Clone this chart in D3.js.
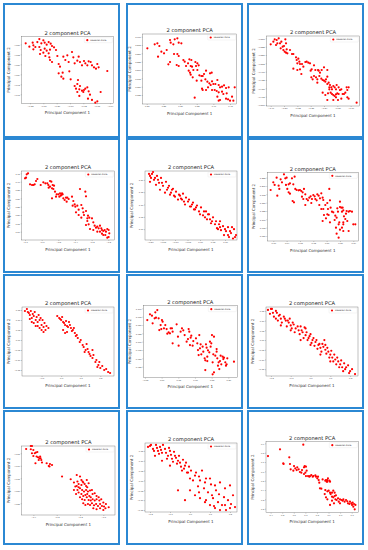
<!DOCTYPE html>
<html>
<head>
<meta charset="utf-8">
<script src="https://cdn.jsdelivr.net/npm/d3@7"></script>
<style>
  body { margin: 0; background: #fff; }
  svg { display: block; }
</style>
</head>
<body>
<div id="chart"></div>
<script>
// ---- data: one array of [PC1, PC2] per panel, plus its ticks ----
const pts1 = [[-0.293,-0.797],[-0.272,-0.795],[-0.270,-0.803],[-0.258,-0.793],[-0.252,-0.784],[-0.246,-0.797],[-0.240,-0.788],[-0.236,-0.795],[-0.230,-0.801],[-0.224,-0.793],[-0.218,-0.798],[-0.214,-0.805],[-0.264,-0.808],[-0.282,-0.807],[-0.270,-0.815],[-0.252,-0.808],[-0.248,-0.817],[-0.236,-0.813],[-0.230,-0.819],[-0.220,-0.816],[-0.224,-0.827],[-0.240,-0.825],[-0.250,-0.829],[-0.234,-0.835],[-0.222,-0.839],[-0.220,-0.847],[-0.214,-0.853],[-0.208,-0.809],[-0.202,-0.817],[-0.198,-0.835],[-0.194,-0.859],[-0.190,-0.867],[-0.180,-0.837],[-0.174,-0.847],[-0.168,-0.833],[-0.164,-0.853],[-0.154,-0.823],[-0.150,-0.839],[-0.146,-0.857],[-0.138,-0.849],[-0.134,-0.837],[-0.130,-0.853],[-0.124,-0.863],[-0.118,-0.850],[-0.114,-0.857],[-0.108,-0.863],[-0.104,-0.851],[-0.098,-0.853],[-0.094,-0.863],[-0.088,-0.869],[-0.082,-0.873],[-0.078,-0.859],[-0.074,-0.869],[-0.048,-0.880],[-0.194,-0.887],[-0.186,-0.897],[-0.180,-0.903],[-0.182,-0.885],[-0.162,-0.881],[-0.158,-0.905],[-0.136,-0.907],[-0.138,-0.919],[-0.146,-0.925],[-0.142,-0.933],[-0.132,-0.935],[-0.130,-0.925],[-0.124,-0.939],[-0.118,-0.937],[-0.114,-0.933],[-0.108,-0.929],[-0.104,-0.941],[-0.120,-0.943],[-0.100,-0.951],[-0.106,-0.963],[-0.094,-0.967],[-0.084,-0.975],[-0.078,-0.971],[-0.068,-0.943],[-0.132,-0.955],[-0.138,-0.943]]
const xTicks1 = [-0.28,-0.24,-0.20,-0.16,-0.12,-0.08,-0.04]
const yTicks1 = [-0.80,-0.83,-0.86,-0.89,-0.92,-0.95]

const pts2 = [[0.202,1.865],[0.224,1.877],[0.232,1.880],[0.238,1.872],[0.244,1.855],[0.234,1.840],[0.252,1.850],[0.260,1.860],[0.270,1.890],[0.272,1.882],[0.280,1.877],[0.284,1.892],[0.292,1.895],[0.296,1.882],[0.282,1.848],[0.292,1.848],[0.296,1.842],[0.290,1.815],[0.296,1.812],[0.270,1.824],[0.265,1.817],[0.304,1.880],[0.310,1.830],[0.314,1.825],[0.318,1.812],[0.324,1.820],[0.328,1.832],[0.334,1.830],[0.332,1.812],[0.336,1.810],[0.330,1.792],[0.340,1.800],[0.346,1.824],[0.352,1.820],[0.356,1.814],[0.348,1.812],[0.352,1.800],[0.358,1.784],[0.364,1.782],[0.368,1.782],[0.372,1.788],[0.378,1.798],[0.390,1.790],[0.395,1.792],[0.376,1.772],[0.382,1.765],[0.388,1.760],[0.384,1.748],[0.392,1.755],[0.396,1.766],[0.400,1.758],[0.406,1.758],[0.412,1.770],[0.416,1.755],[0.420,1.748],[0.426,1.750],[0.432,1.754],[0.438,1.746],[0.396,1.740],[0.404,1.740],[0.410,1.737],[0.416,1.733],[0.426,1.735],[0.430,1.728],[0.440,1.730],[0.446,1.748],[0.456,1.720],[0.460,1.708],[0.464,1.748],[0.420,1.710],[0.438,1.714],[0.444,1.712],[0.450,1.708],[0.416,1.708],[0.412,1.720],[0.368,1.740],[0.378,1.740],[0.366,1.744],[0.344,1.717],[0.350,1.768],[0.326,1.798],[0.364,1.768],[0.332,1.786],[0.338,1.778]]
const xTicks2 = [0.20,0.25,0.30,0.35,0.40,0.45]
const yTicks2 = [1.725,1.750,1.775,1.800,1.825,1.850,1.875,1.900]

const pts3 = [[-1.400,-0.318],[-1.392,-0.310],[-1.388,-0.303],[-1.382,-0.305],[-1.380,-0.315],[-1.384,-0.320],[-1.376,-0.300],[-1.372,-0.315],[-1.368,-0.310],[-1.364,-0.325],[-1.360,-0.323],[-1.356,-0.303],[-1.354,-0.315],[-1.352,-0.333],[-1.362,-0.335],[-1.370,-0.330],[-1.358,-0.340],[-1.354,-0.343],[-1.350,-0.345],[-1.342,-0.335],[-1.336,-0.347],[-1.332,-0.347],[-1.324,-0.357],[-1.322,-0.365],[-1.317,-0.361],[-1.314,-0.370],[-1.320,-0.375],[-1.312,-0.377],[-1.306,-0.377],[-1.302,-0.385],[-1.296,-0.371],[-1.292,-0.370],[-1.287,-0.373],[-1.282,-0.375],[-1.277,-0.393],[-1.280,-0.397],[-1.270,-0.381],[-1.266,-0.395],[-1.258,-0.395],[-1.256,-0.397],[-1.252,-0.403],[-1.247,-0.395],[-1.240,-0.387],[-1.230,-0.395],[-1.332,-0.391],[-1.320,-0.395],[-1.312,-0.393],[-1.308,-0.407],[-1.278,-0.417],[-1.274,-0.423],[-1.270,-0.413],[-1.264,-0.417],[-1.260,-0.423],[-1.254,-0.413],[-1.248,-0.421],[-1.244,-0.425],[-1.260,-0.433],[-1.240,-0.427],[-1.236,-0.430],[-1.234,-0.423],[-1.230,-0.415],[-1.230,-0.437],[-1.226,-0.433],[-1.222,-0.440],[-1.224,-0.447],[-1.218,-0.447],[-1.216,-0.453],[-1.212,-0.443],[-1.208,-0.447],[-1.204,-0.453],[-1.202,-0.440],[-1.196,-0.447],[-1.192,-0.455],[-1.188,-0.453],[-1.184,-0.467],[-1.180,-0.467],[-1.176,-0.463],[-1.172,-0.447],[-1.170,-0.455],[-1.166,-0.447],[-1.220,-0.463],[-1.216,-0.467],[-1.212,-0.470],[-1.208,-0.473],[-1.204,-0.468],[-1.200,-0.465],[-1.196,-0.467],[-1.244,-0.463],[-1.236,-0.470],[-1.228,-0.465],[-1.224,-0.453],[-1.204,-0.477],[-1.198,-0.485],[-1.188,-0.481],[-1.170,-0.477],[-1.166,-0.481],[-1.142,-0.493],[-1.230,-0.485],[-1.212,-0.485]]
const xTicks3 = [-1.40,-1.36,-1.32,-1.28,-1.24,-1.20,-1.16]
const yTicks3 = [-0.500,-0.475,-0.450,-0.425,-0.400,-0.375,-0.350,-0.325,-0.300]

const pts4 = [[-1.700,1.420],[-1.694,1.424],[-1.690,1.444],[-1.682,1.450],[-1.670,1.384],[-1.658,1.380],[-1.650,1.380],[-1.642,1.384],[-1.634,1.404],[-1.626,1.416],[-1.606,1.380],[-1.590,1.396],[-1.578,1.390],[-1.566,1.390],[-1.560,1.380],[-1.550,1.404],[-1.542,1.400],[-1.550,1.370],[-1.558,1.364],[-1.534,1.380],[-1.526,1.376],[-1.530,1.356],[-1.520,1.340],[-1.510,1.324],[-1.514,1.310],[-1.538,1.300],[-1.538,1.360],[-1.500,1.324],[-1.490,1.330],[-1.482,1.320],[-1.474,1.324],[-1.494,1.310],[-1.486,1.316],[-1.478,1.330],[-1.470,1.300],[-1.462,1.290],[-1.454,1.304],[-1.446,1.304],[-1.438,1.296],[-1.450,1.280],[-1.418,1.310],[-1.410,1.284],[-1.402,1.264],[-1.414,1.256],[-1.398,1.250],[-1.386,1.256],[-1.378,1.232],[-1.370,1.356],[-1.362,1.260],[-1.354,1.240],[-1.350,1.216],[-1.394,1.216],[-1.378,1.200],[-1.362,1.184],[-1.346,1.200],[-1.338,1.340],[-1.334,1.312],[-1.334,1.224],[-1.326,1.180],[-1.322,1.196],[-1.314,1.184],[-1.334,1.140],[-1.318,1.144],[-1.298,1.180],[-1.290,1.156],[-1.282,1.136],[-1.274,1.124],[-1.266,1.130],[-1.258,1.120],[-1.250,1.136],[-1.242,1.120],[-1.238,1.110],[-1.230,1.104],[-1.222,1.110],[-1.214,1.100],[-1.206,1.116],[-1.198,1.110],[-1.194,1.090],[-1.218,1.080],[-1.206,1.064],[-1.198,1.068],[-1.266,1.100],[-1.250,1.100],[-1.238,1.088],[-1.230,1.080],[-1.290,1.110],[-1.310,1.116],[-1.326,1.164]]
const xTicks4 = [-1.7,-1.6,-1.5,-1.4,-1.3,-1.2]
const yTicks4 = [1.10,1.15,1.20,1.25,1.30,1.35,1.40,1.45]

const pts5 = [[-0.200,1.816],[-0.192,1.824],[-0.180,1.808],[-0.168,1.800],[-0.200,1.792],[-0.176,1.780],[-0.160,1.760],[-0.140,1.748],[-0.120,1.740],[-0.100,1.732],[-0.088,1.720],[-0.072,1.720],[-0.060,1.700],[-0.040,1.692],[-0.020,1.680],[0.000,1.660],[0.020,1.648],[0.040,1.640],[0.060,1.620],[0.080,1.608],[0.100,1.600],[0.120,1.592],[0.140,1.568],[-0.112,1.760],[-0.080,1.736],[-0.048,1.712],[-0.016,1.688],[0.016,1.672],[0.048,1.632],[0.080,1.632],[0.112,1.576],[-0.152,1.788],[-0.128,1.768],[-0.032,1.700],[0.032,1.660],[0.072,1.600],[0.128,1.608],
  [-0.204,1.824],[-0.196,1.808],[-0.188,1.832],[-0.184,1.800],[-0.172,1.816],[-0.164,1.788],[-0.156,1.808],[-0.148,1.776],[-0.136,1.792],[-0.132,1.760],[-0.124,1.776],[-0.116,1.748],[-0.108,1.764],[-0.104,1.736],[-0.096,1.752],[-0.084,1.740],[-0.076,1.724],[-0.068,1.744],[-0.064,1.712],[-0.056,1.728],[-0.044,1.720],[-0.036,1.692],[-0.028,1.708],[-0.024,1.680],[-0.012,1.696],[-0.004,1.672],[0.004,1.688],[0.012,1.656],[0.024,1.672],[0.028,1.640],[0.036,1.660],[0.044,1.624],[0.052,1.648],[0.064,1.632],[0.068,1.604],[0.076,1.620],[0.084,1.596],[0.092,1.612],[0.096,1.576],[0.104,1.592],[0.112,1.608],[0.116,1.568],[0.124,1.584],[0.132,1.562],[0.136,1.600],[0.144,1.576]]
const xTicks5 = [-0.20,-0.15,-0.10,-0.05,0.00,0.05,0.10]
const yTicks5 = [1.60,1.65,1.70,1.75,1.80]

const pts6 = [[0.592,1.188],[0.600,1.211],[0.604,1.203],[0.610,1.225],[0.616,1.201],[0.618,1.191],[0.612,1.171],[0.622,1.220],[0.626,1.211],[0.632,1.235],[0.636,1.223],[0.640,1.225],[0.638,1.203],[0.642,1.191],[0.646,1.205],[0.650,1.208],[0.646,1.181],[0.650,1.177],[0.656,1.223],[0.660,1.205],[0.658,1.155],[0.662,1.151],[0.664,1.228],[0.666,1.191],[0.670,1.188],[0.676,1.187],[0.680,1.188],[0.684,1.185],[0.688,1.181],[0.692,1.191],[0.686,1.168],[0.690,1.161],[0.696,1.175],[0.700,1.161],[0.696,1.143],[0.704,1.157],[0.708,1.165],[0.712,1.169],[0.716,1.161],[0.714,1.149],[0.720,1.173],[0.724,1.169],[0.726,1.161],[0.730,1.157],[0.732,1.175],[0.736,1.171],[0.740,1.163],[0.738,1.143],[0.744,1.178],[0.748,1.165],[0.750,1.158],[0.744,1.131],[0.750,1.131],[0.756,1.143],[0.762,1.149],[0.764,1.131],[0.768,1.191],[0.770,1.157],[0.772,1.135],[0.762,1.115],[0.766,1.113],[0.752,1.113],[0.748,1.095],[0.758,1.103],[0.770,1.091],[0.776,1.123],[0.780,1.121],[0.786,1.111],[0.784,1.098],[0.790,1.105],[0.794,1.123],[0.800,1.137],[0.804,1.135],[0.808,1.135],[0.810,1.127],[0.812,1.109],[0.818,1.117],[0.820,1.125],[0.826,1.123],[0.830,1.125],[0.836,1.123],[0.816,1.101],[0.822,1.095],[0.810,1.085],[0.806,1.075],[0.796,1.085],[0.800,1.069],[0.788,1.075],[0.790,1.057],[0.796,1.045],[0.810,1.065],[0.840,1.085],[0.846,1.085],[0.826,1.065],[0.800,1.153],[0.806,1.123],[0.792,1.133],[0.798,1.091],[0.810,1.091]]
const xTicks6 = [0.60,0.64,0.68,0.72,0.76,0.80,0.84]
const yTicks6 = [1.050,1.075,1.100,1.125,1.150,1.175,1.200,1.225]

const pts7 = [[-0.170,0.140],[-0.160,0.125],[-0.150,0.110],[-0.140,0.120],[-0.130,0.100],[-0.120,0.090],[-0.110,0.100],[-0.100,0.075],[-0.090,0.065],[-0.080,0.050],[-0.150,0.090],[-0.130,0.070],[-0.110,0.060],[-0.090,0.040],[-0.010,0.110],[0.000,0.100],[0.010,0.090],[0.020,0.075],[0.030,0.070],[0.040,0.090],[0.050,0.060],[0.060,0.050],[0.070,0.035],[0.080,0.025],[0.010,0.050],[0.030,0.040],[0.100,0.000],[0.110,-0.025],[0.125,-0.050],[0.140,-0.060],[0.150,-0.080],[0.160,-0.090],[0.175,-0.110],[0.190,-0.125],[0.200,-0.140],[0.220,-0.150],[0.240,-0.160],[0.130,-0.020],[0.160,-0.050],
  [-0.185,0.145],[-0.175,0.155],[-0.165,0.135],[-0.155,0.145],[-0.145,0.130],[-0.135,0.140],[-0.125,0.115],[-0.115,0.125],[-0.105,0.110],[-0.095,0.100],[-0.085,0.085],[-0.075,0.070],[-0.065,0.060],[-0.120,0.070],[-0.100,0.050],[-0.160,0.105],[-0.140,0.085],
  [-0.020,0.120],[-0.005,0.105],[0.005,0.115],[0.015,0.085],[0.025,0.095],[0.035,0.065],[0.045,0.075],[0.055,0.045],[0.065,0.060],[0.075,0.020],[0.085,0.010],[0.020,0.035],
  [0.095,-0.010],[0.115,-0.035],[0.135,-0.045],[0.145,-0.070],[0.165,-0.075],[0.180,-0.100],[0.195,-0.110],[0.210,-0.130],[0.230,-0.145],[0.250,-0.165],[0.120,-0.060],[0.185,-0.135]]
const xTicks7 = [-0.1,0.0,0.1,0.2]
const yTicks7 = [-0.15,-0.10,-0.05,0.00,0.05,0.10,0.15]

const pts8 = [[-0.043,1.065],[-0.035,1.082],[-0.029,1.078],[-0.027,1.055],[-0.021,1.070],[-0.019,1.088],[-0.017,1.072],[-0.013,1.095],[-0.009,1.070],[-0.007,1.035],[-0.003,1.050],[-0.001,1.038],[0.001,1.065],[0.003,1.060],[0.007,1.040],[0.011,1.050],[0.015,1.038],[0.017,1.024],[0.021,1.028],[0.025,1.025],[0.027,1.040],[0.031,1.040],[0.033,1.030],[0.033,0.995],[0.045,1.052],[0.049,1.015],[0.051,0.988],[0.057,1.030],[0.061,1.040],[0.065,1.034],[0.069,1.020],[0.075,1.000],[0.079,1.008],[0.081,1.038],[0.083,1.030],[0.085,0.990],[0.087,1.012],[0.089,1.018],[0.093,0.988],[0.095,1.002],[0.103,1.010],[0.107,0.995],[0.109,0.975],[0.111,0.960],[0.113,1.020],[0.115,0.980],[0.117,0.992],[0.119,0.962],[0.123,0.985],[0.125,0.970],[0.129,0.950],[0.131,0.944],[0.131,0.915],[0.133,0.992],[0.135,0.982],[0.137,0.955],[0.139,0.974],[0.143,0.968],[0.145,1.000],[0.147,0.985],[0.149,0.995],[0.151,1.020],[0.153,0.938],[0.155,0.962],[0.157,1.015],[0.161,0.958],[0.165,0.970],[0.167,0.950],[0.169,0.928],[0.171,0.938],[0.173,0.918],[0.175,0.942],[0.179,0.932],[0.183,0.955],[0.185,0.948],[0.187,0.952],[0.191,0.938],[0.193,0.928],[0.195,0.932],[0.197,0.950],[0.217,0.940],[0.153,0.902],[0.157,0.908],[0.165,0.978],[0.177,0.958],[0.137,0.942]]
const xTicks8 = [-0.05,0.00,0.05,0.10,0.15,0.20]
const yTicks8 = [0.925,0.950,0.975,1.000,1.025,1.050,1.075,1.100]

const pts9 = [[-0.200,0.160],[-0.190,0.140],[-0.175,0.150],[-0.160,0.125],[-0.150,0.110],[-0.135,0.120],[-0.125,0.100],[-0.110,0.090],[-0.100,0.075],[-0.090,0.090],[-0.075,0.060],[-0.060,0.050],[-0.050,0.070],[-0.040,0.040],[-0.025,0.025],[-0.010,0.010],[0.000,0.030],[0.010,0.000],[0.025,-0.010],[0.040,-0.025],[0.050,-0.040],[0.060,-0.020],[0.075,-0.050],[0.090,-0.060],[0.100,-0.075],[0.110,-0.090],[0.125,-0.100],[0.140,-0.110],[0.150,-0.125],[0.160,-0.140],[0.175,-0.150],[0.190,-0.130],[0.200,-0.160],[-0.150,0.075],[-0.100,0.050],[-0.050,0.000],[0.000,-0.025],[0.050,-0.075],[0.100,-0.110],[-0.175,0.110],[-0.025,0.060],[0.075,-0.025],
  [-0.215,0.155],[-0.205,0.135],[-0.195,0.160],[-0.185,0.120],[-0.170,0.140],[-0.165,0.100],[-0.155,0.130],[-0.145,0.090],[-0.130,0.110],[-0.120,0.070],[-0.115,0.100],[-0.105,0.110],[-0.095,0.060],[-0.085,0.080],[-0.080,0.040],[-0.065,0.070],[-0.055,0.030],[-0.045,0.050],[-0.035,0.010],[-0.030,0.065],[-0.020,0.040],[-0.015,0.000],[-0.005,0.020],[0.005,-0.015],[0.015,0.010],[0.020,-0.030],[0.030,0.000],[0.035,-0.045],[0.045,-0.020],[0.055,-0.060],[0.065,-0.035],[0.070,0.000],[0.080,-0.070],[0.085,-0.040],[0.095,-0.090],[0.105,-0.055],[0.115,-0.110],[0.120,-0.075],[0.130,-0.125],[0.135,-0.090],[0.145,-0.140],[0.155,-0.105],[0.165,-0.160],[0.170,-0.120],[0.180,-0.140],[0.195,-0.170],[0.210,-0.150],[0.225,-0.175]]
const xTicks9 = [-0.2,-0.1,0.0,0.1,0.2]
const yTicks9 = [-0.15,-0.10,-0.05,0.00,0.05,0.10,0.15]

const pts10 = [[-1.431,-0.633],[-1.411,-0.621],[-1.406,-0.621],[-1.411,-0.634],[-1.400,-0.637],[-1.406,-0.650],[-1.394,-0.650],[-1.400,-0.661],[-1.389,-0.647],[-1.383,-0.645],[-1.386,-0.663],[-1.380,-0.666],[-1.374,-0.670],[-1.371,-0.663],[-1.369,-0.670],[-1.377,-0.677],[-1.366,-0.677],[-1.391,-0.690],[-1.363,-0.687],[-1.343,-0.690],[-1.334,-0.701],[-1.329,-0.693],[-1.320,-0.697],[-1.331,-0.703],[-1.277,-0.743],[-1.240,-0.754],[-1.214,-0.737],[-1.200,-0.743],[-1.194,-0.757],[-1.189,-0.763],[-1.211,-0.763],[-1.206,-0.773],[-1.226,-0.767],[-1.220,-0.783],[-1.194,-0.777],[-1.186,-0.767],[-1.180,-0.773],[-1.174,-0.781],[-1.169,-0.786],[-1.200,-0.790],[-1.211,-0.797],[-1.191,-0.797],[-1.183,-0.803],[-1.174,-0.797],[-1.166,-0.803],[-1.157,-0.799],[-1.149,-0.797],[-1.206,-0.807],[-1.194,-0.813],[-1.186,-0.821],[-1.177,-0.817],[-1.169,-0.813],[-1.160,-0.821],[-1.154,-0.826],[-1.146,-0.813],[-1.137,-0.810],[-1.129,-0.821],[-1.120,-0.826],[-1.200,-0.826],[-1.191,-0.834],[-1.180,-0.837],[-1.171,-0.826],[-1.163,-0.837],[-1.154,-0.839],[-1.146,-0.834],[-1.137,-0.839],[-1.129,-0.834],[-1.117,-0.839],[-1.109,-0.834],[-1.100,-0.847],[-1.186,-0.850],[-1.177,-0.857],[-1.166,-0.853],[-1.157,-0.857],[-1.149,-0.850],[-1.140,-0.858],[-1.131,-0.853],[-1.123,-0.861],[-1.114,-0.853],[-1.106,-0.861],[-1.097,-0.863],[-1.089,-0.853],[-1.077,-0.866],[-1.143,-0.870],[-1.129,-0.874],[-1.114,-0.870],[-1.100,-0.877],[-1.091,-0.870],[-1.206,-0.786],[-1.217,-0.813],[-1.226,-0.797],[-1.171,-0.757],[-1.163,-0.770],[-1.214,-0.781]]
const xTicks10 = [-1.4,-1.3,-1.2,-1.1]
const yTicks10 = [-0.85,-0.80,-0.75,-0.70,-0.65]

const pts11 = [[-0.200,0.175],[-0.185,0.160],[-0.170,0.180],[-0.160,0.150],[-0.150,0.170],[-0.140,0.140],[-0.125,0.160],[-0.110,0.125],[-0.100,0.150],[-0.090,0.110],[-0.075,0.125],[-0.060,0.100],[-0.050,0.090],[-0.175,0.125],[-0.140,0.100],[-0.100,0.075],[-0.040,0.050],[-0.025,0.075],[-0.010,0.040],[0.000,0.010],[0.025,0.025],[0.050,0.000],[0.075,-0.010],[0.100,0.010],[0.125,-0.025],[0.150,-0.010],[0.175,-0.040],[0.200,-0.025],[0.000,-0.050],[0.025,-0.075],[0.050,-0.090],[0.075,-0.110],[0.100,-0.125],[0.125,-0.140],[0.150,-0.150],[0.175,-0.125],[0.200,-0.140],[-0.025,-0.100],[-0.060,-0.050],[0.110,-0.075],
  [-0.210,0.170],[-0.195,0.180],[-0.180,0.150],[-0.165,0.165],[-0.155,0.135],[-0.145,0.155],[-0.135,0.180],[-0.120,0.140],[-0.115,0.110],[-0.105,0.165],[-0.095,0.130],[-0.085,0.095],[-0.080,0.145],[-0.070,0.115],[-0.065,0.085],[-0.055,0.125],[-0.045,0.070],[-0.035,0.105],[-0.030,0.060],[-0.020,0.090],[-0.015,0.040],[-0.005,0.070],[0.005,0.050],[0.015,0.000],[0.030,0.040],[0.040,-0.030],[0.045,0.020],[0.060,0.050],[0.070,-0.040],[0.080,0.010],[0.090,-0.060],[0.105,-0.020],[0.115,-0.090],[0.130,-0.050],[0.140,-0.110],[0.145,-0.070],[0.160,-0.125],[0.170,-0.085],[0.180,-0.150],[0.190,-0.100],[0.205,-0.120],[0.215,-0.075],[0.225,-0.135],[0.080,-0.100],[0.120,-0.130],[0.045,-0.060]]
const xTicks11 = [-0.2,-0.1,0.0,0.1,0.2]
const yTicks11 = [-0.15,-0.10,-0.05,0.00,0.05,0.10,0.15]

const pts12 = [[0.377,0.764],[0.481,0.836],[0.509,0.686],[0.512,0.679],[0.561,0.750],[0.567,0.679],[0.573,0.622],[0.596,0.607],[0.602,0.657],[0.613,0.632],[0.625,0.614],[0.630,0.643],[0.642,0.622],[0.653,0.593],[0.665,0.586],[0.671,0.614],[0.682,0.886],[0.688,0.643],[0.694,0.657],[0.705,0.650],[0.711,0.607],[0.700,0.586],[0.688,0.572],[0.705,0.550],[0.723,0.550],[0.734,0.543],[0.740,0.550],[0.751,0.561],[0.763,0.543],[0.769,0.550],[0.786,0.557],[0.792,0.543],[0.803,0.525],[0.809,0.543],[0.815,0.507],[0.820,0.479],[0.826,0.418],[0.838,0.414],[0.849,0.514],[0.872,0.500],[0.878,0.507],[0.890,0.489],[0.895,0.525],[0.907,0.500],[0.913,0.489],[0.884,0.489],[0.890,0.507],[0.867,0.357],[0.872,0.400],[0.878,0.322],[0.890,0.386],[0.901,0.393],[0.913,0.372],[0.918,0.357],[0.930,0.372],[0.941,0.393],[0.953,0.372],[0.930,0.329],[0.941,0.322],[0.953,0.336],[0.964,0.343],[0.970,0.293],[0.959,0.300],[0.982,0.311],[0.988,0.275],[0.999,0.300],[1.011,0.293],[1.022,0.286],[1.028,0.300],[1.039,0.275],[1.051,0.293],[1.062,0.279],[1.068,0.257],[1.080,0.250],[1.085,0.275],[1.097,0.257],[1.103,0.240],[1.108,0.265],[1.114,0.222],[1.120,0.250],[1.132,0.240],[1.126,0.193],[0.930,0.286],[0.947,0.257],[0.913,0.240],[0.890,0.300],[0.999,0.257]]
const xTicks12 = [0.4,0.5,0.6,0.7,0.8,0.9,1.0,1.1]
const yTicks12 = [0.2,0.3,0.4,0.5,0.6,0.7,0.8,0.9]

const title = "2 component PCA"
const xLabel = "Principal Component 1"
const yLabel = "Principal Component 2"
const legendLabel = "Hawaiian Kona"

// ---- layout ----
const colX = [3, 126, 247], rowY = [3, 138, 274, 410]
const cellW = 117, cellH = 135
const frameColor = "#2b88d3"

// per panel: points, ticks, view window, tick format, plot box inside the cell
const panels = [
  { pts: pts1, xt: xTicks1, yt: yTicks1, xd: [-0.305, -0.030], yd: [-0.977, -0.777], fx: ".2f", fy: ".2f", box: [18.7, 33.7, 110.3, 100.3] },
  { pts: pts2, xt: xTicks2, yt: yTicks2, xd: [0.188, 0.470], yd: [1.698, 1.908], fx: ".2f", fy: ".3f", box: [16.7, 31, 110.7, 101] },
  { pts: pts3, xt: xTicks3, yt: yTicks3, xd: [-1.412, -1.134], yd: [-0.503, -0.293], fx: ".2f", fy: ".3f", box: [19.7, 33, 112.3, 103] },
  { pts: pts4, xt: xTicks4, yt: yTicks4, xd: [-1.72, -1.164], yd: [1.050, 1.464], fx: ".1f", fy: ".2f", box: [18.7, 33, 111.3, 102] },
  { pts: pts5, xt: xTicks5, yt: yTicks5, xd: [-0.22, 0.148], yd: [1.556, 1.836], fx: ".2f", fy: ".2f", box: [19, 33, 111, 102] },
  { pts: pts6, xt: xTicks6, yt: yTicks6, xd: [0.582, 0.855], yd: [1.035, 1.241], fx: ".2f", fy: ".3f", box: [20.3, 34.3, 111.3, 103] },
  { pts: pts7, xt: xTicks7, yt: yTicks7, xd: [-0.20, 0.27], yd: [-0.18, 0.165], fx: ".1f", fy: ".2f", box: [19, 33, 111, 102] },
  { pts: pts8, xt: xTicks8, yt: yTicks8, xd: [-0.055, 0.227], yd: [0.892, 1.108], fx: ".2f", fy: ".3f", box: [17.3, 31.7, 111.3, 103.7] },
  { pts: pts9, xt: xTicks9, yt: yTicks9, xd: [-0.225, 0.24], yd: [-0.185, 0.17], fx: ".1f", fy: ".2f", box: [19, 33, 111, 102] },
  { pts: pts10, xt: xTicks10, yt: yTicks10, xd: [-1.45, -1.05], yd: [-0.897, -0.621], fx: ".1f", fy: ".2f", box: [18.7, 36, 112, 105] },
  { pts: pts11, xt: xTicks11, yt: yTicks11, xd: [-0.225, 0.235], yd: [-0.16, 0.19], fx: ".1f", fy: ".2f", box: [19, 33, 111, 102] },
  { pts: pts12, xt: xTicks12, yt: yTicks12, xd: [0.360, 1.157], yd: [0.157, 0.918], fx: ".1f", fy: ".1f", box: [19, 31.7, 111.3, 102.7] },
]

const svg = d3.select("#chart").append("svg")
  .attr("width", 368)
  .attr("height", 550)
  .style("font-family", "'DejaVu Sans', sans-serif")

panels.forEach((p, i) => {
  const cx = colX[i % 3], cy = rowY[Math.floor(i / 3)]
  const g = svg.append("g").attr("transform", `translate(${cx},${cy})`)

  // blue frame around each figure
  g.append("rect")
    .attr("x", 1).attr("y", 1)
    .attr("width", cellW - 2).attr("height", cellH - 2)
    .attr("fill", "#fff")
    .attr("stroke", frameColor)
    .attr("stroke-width", 2)

  const [l, t, r, b] = p.box
  const x = d3.scaleLinear().domain(p.xd).range([l, r])
  const y = d3.scaleLinear().domain(p.yd).range([b, t])

  const xAxis = g.append("g")
    .attr("transform", `translate(0,${b})`)
    .call(d3.axisBottom(x).tickValues(p.xt).tickFormat(d3.format(p.fx)).tickSize(1).tickPadding(0.8))
  const yAxis = g.append("g")
    .attr("transform", `translate(${l},0)`)
    .call(d3.axisLeft(y).tickValues(p.yt).tickFormat(d3.format(p.fy)).tickSize(1).tickPadding(0.8))
  ;[xAxis, yAxis].forEach(a => {
    a.select(".domain").remove()
    a.selectAll("line").attr("stroke", "#555").attr("stroke-width", 0.3)
    a.selectAll("text").attr("font-size", 2.3).attr("fill", "#444")
  })

  // plot frame
  g.append("rect")
    .attr("x", l).attr("y", t)
    .attr("width", r - l).attr("height", b - t)
    .attr("fill", "none")
    .attr("stroke", "#666")
    .attr("stroke-width", 0.4)

  g.append("g").selectAll("circle")
    .data(p.pts)
    .join("circle")
    .attr("cx", d => x(d[0]))
    .attr("cy", d => y(d[1]))
    .attr("r", 1.1)
    .attr("fill", "#ff0000")

  g.append("text")
    .attr("x", (l + r) / 2).attr("y", t - 1.6)
    .attr("text-anchor", "middle")
    .attr("font-size", 5.2)
    .attr("fill", "#222")
    .text(title)

  g.append("text")
    .attr("x", (l + r) / 2).attr("y", b + 10.5)
    .attr("text-anchor", "middle")
    .attr("font-size", 4)
    .attr("fill", "#333")
    .text(xLabel)

  g.append("text")
    .attr("transform", `translate(${l - 12},${(t + b) / 2}) rotate(-90)`)
    .attr("text-anchor", "middle")
    .attr("font-size", 4)
    .attr("fill", "#333")
    .text(yLabel)

  // legend
  const lg = g.append("g").attr("transform", `translate(${r - 29},${t + 1})`)
  lg.append("rect")
    .attr("width", 28).attr("height", 5)
    .attr("rx", 0.6)
    .attr("fill", "#fff")
    .attr("stroke", "#ddd")
    .attr("stroke-width", 0.3)
  lg.append("circle").attr("cx", 3).attr("cy", 2.5).attr("r", 1.1).attr("fill", "#ff0000")
  lg.append("text")
    .attr("x", 6).attr("y", 3.3)
    .attr("font-size", 2.2)
    .attr("fill", "#333")
    .text(legendLabel)
})
</script>
</body>
</html>
